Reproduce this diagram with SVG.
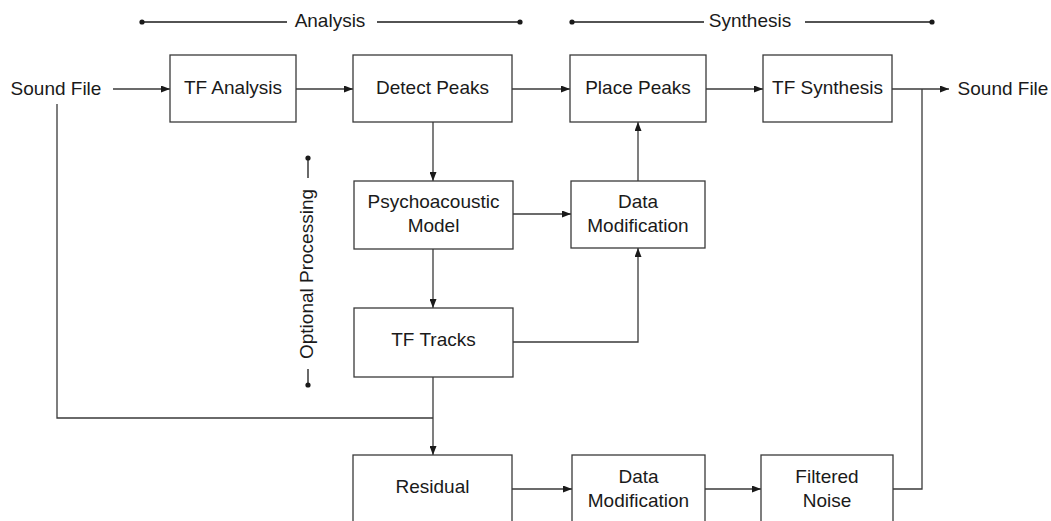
<svg xmlns="http://www.w3.org/2000/svg" width="1051" height="521" viewBox="0 0 1051 521">
  <defs>
    <style>
      .box { fill: #ffffff; stroke: #3a3a3a; stroke-width: 1.3; }
      .lbl { font-family: "Liberation Sans", Arial, sans-serif; font-size: 19px; fill: #1a1a1a; text-anchor: middle; }
      .wire { fill: none; stroke: #3a3a3a; stroke-width: 1.3; }
      .arr { marker-end: url(#head); }
      .rule { fill: none; stroke: #1a1a1a; stroke-width: 1.3; }
      .dot { fill: #1a1a1a; }
    </style>
    <marker id="head" markerWidth="9" markerHeight="7" refX="9" refY="3.5" orient="auto" markerUnits="userSpaceOnUse">
      <path d="M0,0 L9,3.5 L0,7 Z" fill="#1a1a1a"/>
    </marker>
  </defs>

  <rect width="1051" height="521" fill="#ffffff"/>

  <!-- stage rulers -->
  <g id="stage-analysis">
    <line class="rule" x1="142" y1="22" x2="287" y2="22"/>
    <line class="rule" x1="377" y1="22" x2="520" y2="22"/>
    <circle class="dot" cx="142" cy="22" r="2.6"/>
    <circle class="dot" cx="520" cy="22" r="2.6"/>
    <text class="lbl" x="330" y="27">Analysis</text>
  </g>
  <g id="stage-synthesis">
    <line class="rule" x1="572" y1="22" x2="704" y2="22"/>
    <line class="rule" x1="805" y1="22" x2="932" y2="22"/>
    <circle class="dot" cx="572" cy="22" r="2.6"/>
    <circle class="dot" cx="932" cy="22" r="2.6"/>
    <text class="lbl" x="750" y="27">Synthesis</text>
  </g>
  <g id="stage-optional">
    <line class="rule" x1="308" y1="158" x2="308" y2="178"/>
    <line class="rule" x1="308" y1="369" x2="308" y2="385"/>
    <circle class="dot" cx="308" cy="158" r="2.6"/>
    <circle class="dot" cx="308" cy="385" r="2.6"/>
    <text class="lbl" transform="translate(313,274) rotate(-90)">Optional Processing</text>
  </g>

  <!-- connectors -->
  <g id="connectors">
    <line class="wire arr" x1="113" y1="89" x2="170" y2="89"/>
    <line class="wire arr" x1="296" y1="89" x2="353" y2="89"/>
    <line class="wire arr" x1="512" y1="89" x2="570" y2="89"/>
    <line class="wire arr" x1="706" y1="89" x2="763" y2="89"/>
    <line class="wire arr" x1="892" y1="89" x2="949" y2="89"/>
    <line class="wire arr" x1="433" y1="122" x2="433" y2="181"/>
    <line class="wire arr" x1="513" y1="214" x2="571" y2="214"/>
    <line class="wire arr" x1="638" y1="181" x2="638" y2="122"/>
    <line class="wire arr" x1="433" y1="249" x2="433" y2="308"/>
    <polyline class="wire arr" points="513,342 638,342 638,248"/>
    <line class="wire arr" x1="433" y1="377" x2="433" y2="455"/>
    <polyline class="wire" points="57,104 57,418 433,418"/>
    <line class="wire arr" x1="512" y1="489" x2="572" y2="489"/>
    <line class="wire arr" x1="705" y1="489" x2="761" y2="489"/>
    <polyline class="wire" points="893,489 922,489 922,89"/>
  </g>

  <!-- endpoints -->
  <g id="sound-file-in">
    <text class="lbl" x="56" y="95">Sound File</text>
  </g>
  <g id="sound-file-out">
    <text class="lbl" x="1003" y="95">Sound File</text>
  </g>

  <!-- processing blocks -->
  <g id="tf-analysis">
    <rect class="box" x="170" y="55" width="126" height="67"/>
    <text class="lbl" x="233" y="94">TF Analysis</text>
  </g>
  <g id="detect-peaks">
    <rect class="box" x="353" y="55" width="159" height="67"/>
    <text class="lbl" x="432.5" y="94">Detect Peaks</text>
  </g>
  <g id="place-peaks">
    <rect class="box" x="570" y="55" width="136" height="67"/>
    <text class="lbl" x="638" y="94">Place Peaks</text>
  </g>
  <g id="tf-synthesis">
    <rect class="box" x="763" y="55" width="129" height="67"/>
    <text class="lbl" x="827.5" y="94">TF Synthesis</text>
  </g>
  <g id="psychoacoustic-model">
    <rect class="box" x="354" y="181" width="159" height="68"/>
    <text class="lbl" x="433.5" y="208">Psychoacoustic</text>
    <text class="lbl" x="433.5" y="232">Model</text>
  </g>
  <g id="data-modification-peaks">
    <rect class="box" x="571" y="181" width="134" height="67"/>
    <text class="lbl" x="638" y="208">Data</text>
    <text class="lbl" x="638" y="232">Modification</text>
  </g>
  <g id="tf-tracks">
    <rect class="box" x="354" y="308" width="159" height="69"/>
    <text class="lbl" x="433.5" y="346">TF Tracks</text>
  </g>
  <g id="residual">
    <rect class="box" x="353" y="455" width="159" height="69"/>
    <text class="lbl" x="432.5" y="493">Residual</text>
  </g>
  <g id="data-modification-residual">
    <rect class="box" x="572" y="455" width="133" height="69"/>
    <text class="lbl" x="638.5" y="483">Data</text>
    <text class="lbl" x="638.5" y="507">Modification</text>
  </g>
  <g id="filtered-noise">
    <rect class="box" x="761" y="455" width="132" height="69"/>
    <text class="lbl" x="827" y="483">Filtered</text>
    <text class="lbl" x="827" y="507">Noise</text>
  </g>
</svg>
